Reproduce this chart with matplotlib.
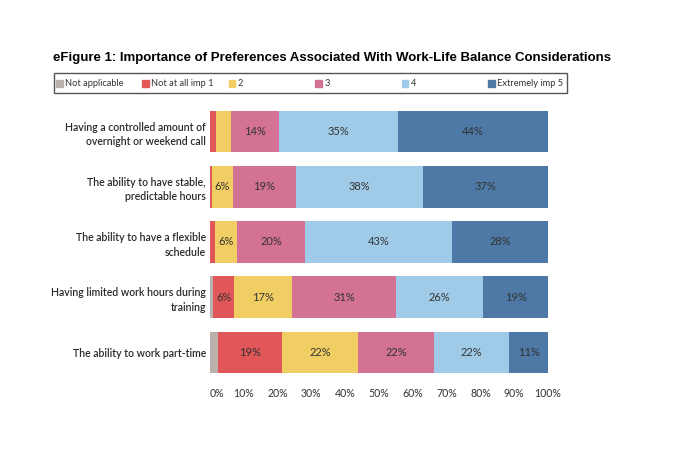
import matplotlib.pyplot as plt
import matplotlib.patches as mpatches
import numpy as np

categories = [
    "Having a controlled amount of\novernight or weekend call",
    "The ability to have stable,\npredictable hours",
    "The ability to have a flexible\nschedule",
    "Having limited work hours during\ntraining",
    "The ability to work part-time",
]

# percent of respondents per answer
not_applicable = [0.0, 0.0, 0.0, 1.0, 2.3]
imp1 = [1.7, 0.7, 1.6, 6.2, 19.1]
imp2 = [4.4, 6.0, 6.4, 17.1, 22.4]
imp3 = [14.2, 18.6, 20.2, 30.7, 22.4]
imp4 = [35.4, 37.8, 43.4, 25.9, 22.4]
imp5 = [44.3, 36.9, 28.4, 19.1, 11.4]

series_names = ["Not applicable", "Not at all imp 1", "2", "3", "4", "Extremely imp 5"]
colors = ["#bab0ac", "#e15759", "#f1ce63", "#d37295", "#a0cbe8", "#4e79a7"]

xticks = [0, 10, 20, 30, 40, 50, 60, 70, 80, 90, 100]

font = "Lato"

fig = plt.figure(figsize=(6.8, 4.7), dpi=100)
ax = fig.add_axes([210 / 680, 1 - 380 / 470, 338 / 680, 276 / 470])

series = [not_applicable, imp1, imp2, imp3, imp4, imp5]
ypos = np.arange(len(categories))
left = np.zeros(len(categories))
for vals, col in zip(series, colors):
    vals = np.array(vals)
    ax.barh(ypos, vals, left=left, height=0.753, color=col, edgecolor="none")
    for y, v, l in zip(ypos, vals, left):
        if v >= 5:
            ax.text(l + v / 2, y, f"{v:.0f}%", ha="center", va="center",
                    fontsize=8, color="#333333", family=font)
    left += vals

ax.set_xlim(0, 100)
ax.set_ylim(len(categories) - 0.5, -0.5)
ax.set_yticks(ypos)
ax.set_yticklabels(categories, fontsize=7.6, family=font, color="#2a2a2a",
                   fontweight="semibold", linespacing=1.4)
ax.set_xticks(xticks)
ax.set_xticklabels([f"{t}%" for t in xticks], fontsize=7.6, family=font, color="#333333")
ax.get_xticklabels()[0].set_ha("left")
ax.tick_params(axis="both", length=0)
ax.tick_params(axis="x", pad=6)
ax.tick_params(axis="y", pad=3)
for s in ax.spines.values():
    s.set_visible(False)

fig.text(53 / 680, 1 - 60.7 / 470,
         "eFigure 1: Importance of Preferences Associated With Work-Life Balance Considerations",
         fontsize=9.5, fontweight="bold", family="Liberation Sans", va="baseline")

# legend box across the top
W, H = 680, 470
box = mpatches.Rectangle((54 / W, 1 - 93.3 / H), (567 - 54) / W, (93.3 - 72.7) / H,
                         transform=fig.transFigure, fill=False, edgecolor="#555555",
                         linewidth=1.0)
fig.patches.append(box)
for i, (name, col) in enumerate(zip(series_names, colors)):
    px = 56 + i * 86.4
    fig.patches.append(mpatches.Rectangle((px / W, 1 - 86.5 / H), 6.5 / W, 7 / H,
                                          transform=fig.transFigure, color=col))
    fig.text((px + 9) / W, 1 - 83 / H, name, fontsize=6.7, family=font,
             color="#333333", va="center")

fig.savefig("out.png", dpi=100)
